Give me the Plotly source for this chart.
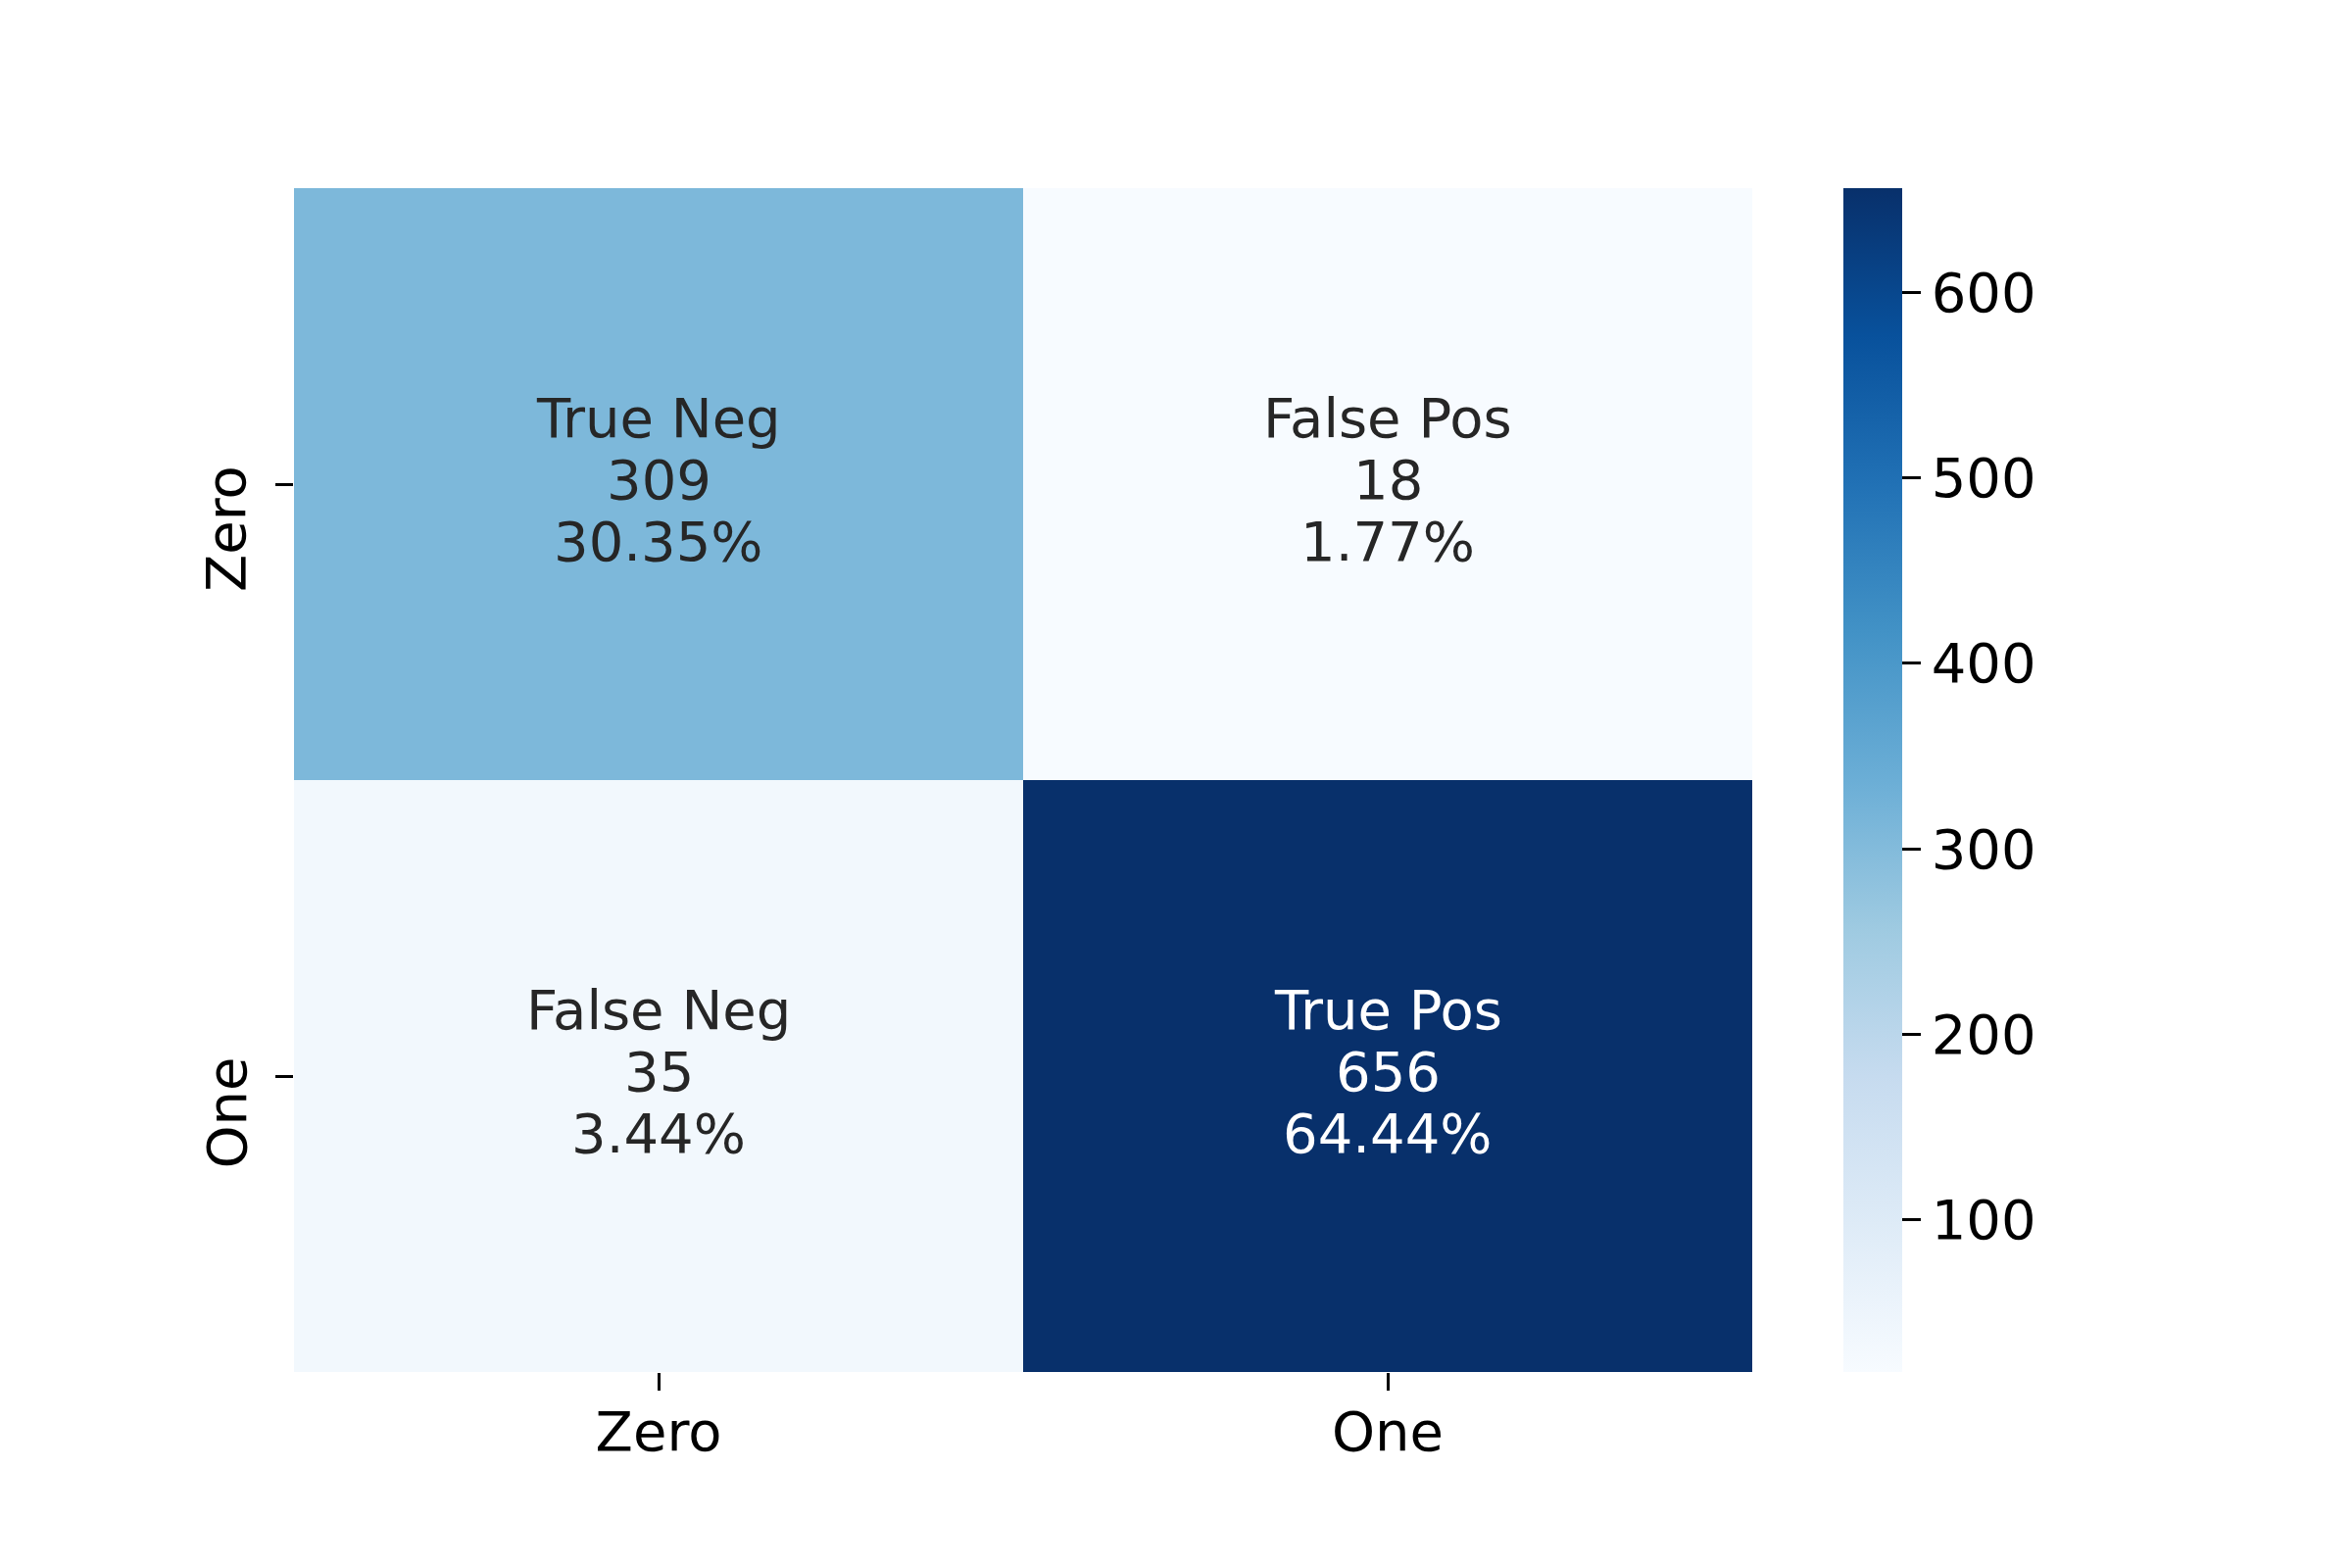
import plotly.graph_objects as go

# confusion matrix values
class_labels = ["Zero", "One"]
counts = [[309, 18], [35, 656]]
group_names = [["True Neg", "False Pos"], ["False Neg", "True Pos"]]
group_percents = [["30.35%", "1.77%"], ["3.44%", "64.44%"]]
cbar_ticks = [100, 200, 300, 400, 500, 600]

# matplotlib / colorbrewer Blues
blues = ["#f7fbff", "#deebf7", "#c6dbef", "#9ecae1", "#6baed6",
         "#4292c6", "#2171b5", "#08519c", "#08306b"]
colorscale = [[i / (len(blues) - 1), c] for i, c in enumerate(blues)]

FONT = "DejaVu Sans"
FS = 56
zmin, zmax = 18, 656

fig = go.Figure(go.Heatmap(
    z=counts, x=class_labels, y=class_labels,
    colorscale=colorscale, zmin=zmin, zmax=zmax,
    showscale=True, xgap=0, ygap=0,
    colorbar=dict(
        x=1.0625, xanchor="left", xref="paper", xpad=0,
        y=0.5, yanchor="middle", len=1, lenmode="fraction",
        thickness=60, thicknessmode="pixels", outlinewidth=0,
        tickvals=cbar_ticks, ticks="outside", ticklen=19, tickwidth=3,
        # invisible spacer: small gap between tick mark and label
        tickprefix='<span style="font-size:28px;color:white">-</span>',
        tickcolor="black", tickfont=dict(family=FONT, size=FS, color="black"),
        ypad=0,
    ),
    hoverinfo="skip",
))

for i, ylab in enumerate(class_labels):
    for j, xlab in enumerate(class_labels):
        v = counts[i][j]
        col = "white" if (v - zmin) / (zmax - zmin) > 0.6 else "#262626"
        lines = [group_names[i][j], str(v), group_percents[i][j]]
        for k, txt in enumerate(lines):
            fig.add_annotation(
                x=xlab, y=ylab, xref="x", yref="y", text=txt, showarrow=False,
                yshift=63 * (1 - k) + 5, xanchor="center", yanchor="middle",
                font=dict(family=FONT, size=FS, color=col),
            )

# y tick labels, rotated like matplotlib (end of text just above the tick)
for lab in class_labels:
    fig.add_annotation(
        x=0, y=lab, xref="paper", yref="y", text=lab, showarrow=False,
        textangle=-90, xanchor="right", yanchor="top", xshift=-35, yshift=21,
        font=dict(family=FONT, size=FS, color="black"),
    )

fig.update_layout(
    width=2400, height=1600,
    margin=dict(l=292, r=620, t=184, b=208, pad=0),
    paper_bgcolor="white", plot_bgcolor="white",
    font=dict(family=FONT, size=FS, color="black"),
    xaxis=dict(showgrid=False, zeroline=False, showline=False,
               ticks="outside", ticklen=18, tickwidth=3, tickcolor="black",
               ticklabelstandoff=-6,
               tickfont=dict(family=FONT, size=FS, color="black")),
    yaxis=dict(showgrid=False, zeroline=False, showline=False,
               autorange="reversed", showticklabels=False,
               ticks="outside", ticklen=18, tickwidth=3, tickcolor="black"),
)

fig.write_html("out.html")
